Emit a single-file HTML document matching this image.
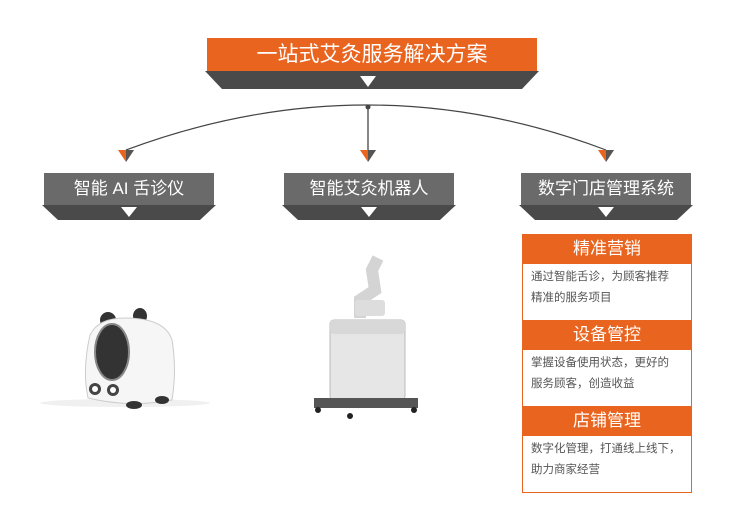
<!DOCTYPE html>
<html><head><meta charset="utf-8"><style>
body{margin:0;width:750px;height:513px;background:#fff;position:relative;overflow:hidden;font-family:"Liberation Sans","Noto Sans CJK SC",sans-serif}
.a{position:absolute}
.org{background:#e8641f;color:#fff;text-align:center}
.gry{background:#6a6a6a;color:#fff;text-align:center}
.txt{color:#555;font-size:11.5px;line-height:21px;padding:3px 0 0 8px;border-left:1px solid #e8641f;border-right:1px solid #e8641f;background:#fff}
</style></head><body>
<div class="a org" style="left:207px;top:38px;width:330px;height:33px;line-height:33px;font-size:21px">一站式艾灸服务解决方案</div>
<div class="a gry" style="left:44px;top:173px;width:170px;height:32px;line-height:32px;font-size:17px">智能 AI 舌诊仪</div>
<div class="a gry" style="left:284px;top:173px;width:170px;height:32px;line-height:32px;font-size:17px">智能艾灸机器人</div>
<div class="a gry" style="left:521px;top:173px;width:170px;height:32px;line-height:32px;font-size:17px">数字门店管理系统</div>
<svg class="a" style="left:0;top:0" width="750" height="513">
<polygon points="205,71 539,71 522,89 222,89" fill="#4a4a4a"/>
<polygon points="360,76 376,76 368,87" fill="#fff"/>
<g fill="#4a4a4a">
<polygon points="42,205 216,205 200,220 58,220"/>
<polygon points="282,205 456,205 440,220 298,220"/>
<polygon points="519,205 693,205 677,220 535,220"/>
</g>
<g fill="#fff"><polygon points="121,207 137,207 129,217"/><polygon points="361,207 377,207 369,217"/><polygon points="598,207 614,207 606,217"/></g>
<path d="M126,150 Q368,60 606,150" fill="none" stroke="#444" stroke-width="1.2"/>
<circle cx="368" cy="107" r="2.5" fill="#444"/>
<line x1="368" y1="107" x2="368" y2="155" stroke="#444" stroke-width="1.3"/>
<g><polygon points="118,150 134,150 126,162" fill="#e8641f"/><polygon points="360,150 376,150 368,162" fill="#e8641f"/><polygon points="598,150 614,150 606,162" fill="#e8641f"/>
<polygon points="126,150 134,150 126,162" fill="#555"/><polygon points="368,150 376,150 368,162" fill="#555"/><polygon points="606,150 614,150 606,162" fill="#555"/></g>
<!-- panda -->
<ellipse cx="125" cy="403" rx="85" ry="4" fill="#f0f0f0"/>
<ellipse cx="108" cy="320" rx="8" ry="8" fill="#333"/><ellipse cx="140" cy="316" rx="7" ry="8" fill="#333"/>
<path d="M88,398 Q82,370 90,335 Q98,318 125,318 Q165,318 172,340 Q177,370 172,400 Q130,408 88,398Z" fill="#f6f6f6" stroke="#ccc"/>
<ellipse cx="112" cy="352" rx="17" ry="28" fill="#333" stroke="#888" stroke-width="2"/>
<circle cx="95" cy="389" r="6" fill="#444"/><circle cx="95" cy="389" r="3" fill="#fff"/>
<circle cx="113" cy="390" r="6" fill="#444"/><circle cx="113" cy="390" r="3" fill="#fff"/>
<ellipse cx="134" cy="405" rx="8" ry="4" fill="#333"/><ellipse cx="162" cy="400" rx="7" ry="4" fill="#333"/>
<!-- robot machine -->
<rect x="330" y="320" width="75" height="80" rx="4" fill="#e6e6e6" stroke="#bbb"/>
<rect x="330" y="320" width="75" height="14" rx="4" fill="#d8d8d8"/>
<path d="M360,318 L360,300 L375,290 L372,270 L378,258" fill="none" stroke="#d4d4d4" stroke-width="12"/>
<rect x="355" y="300" width="30" height="16" rx="3" fill="#ddd"/>
<rect x="314" y="398" width="104" height="10" fill="#555"/>
<circle cx="318" cy="410" r="3" fill="#222"/><circle cx="414" cy="410" r="3" fill="#222"/><circle cx="350" cy="416" r="3" fill="#222"/>
</svg>
<div class="a" style="left:522px;top:234px;width:170px">
<div class="org" style="height:30px;line-height:30px;font-size:17px">精准营销</div>
<div class="txt" style="height:53px">通过智能舌诊，为顾客推荐<br>精准的服务项目</div>
<div class="org" style="height:30px;line-height:30px;font-size:17px">设备管控</div>
<div class="txt" style="height:53px">掌握设备使用状态，更好的<br>服务顾客，创造收益</div>
<div class="org" style="height:30px;line-height:30px;font-size:17px">店铺管理</div>
<div class="txt" style="height:53px;border-bottom:1px solid #e8641f">数字化管理，打通线上线下，<br>助力商家经营</div>
</div>
</body></html>
